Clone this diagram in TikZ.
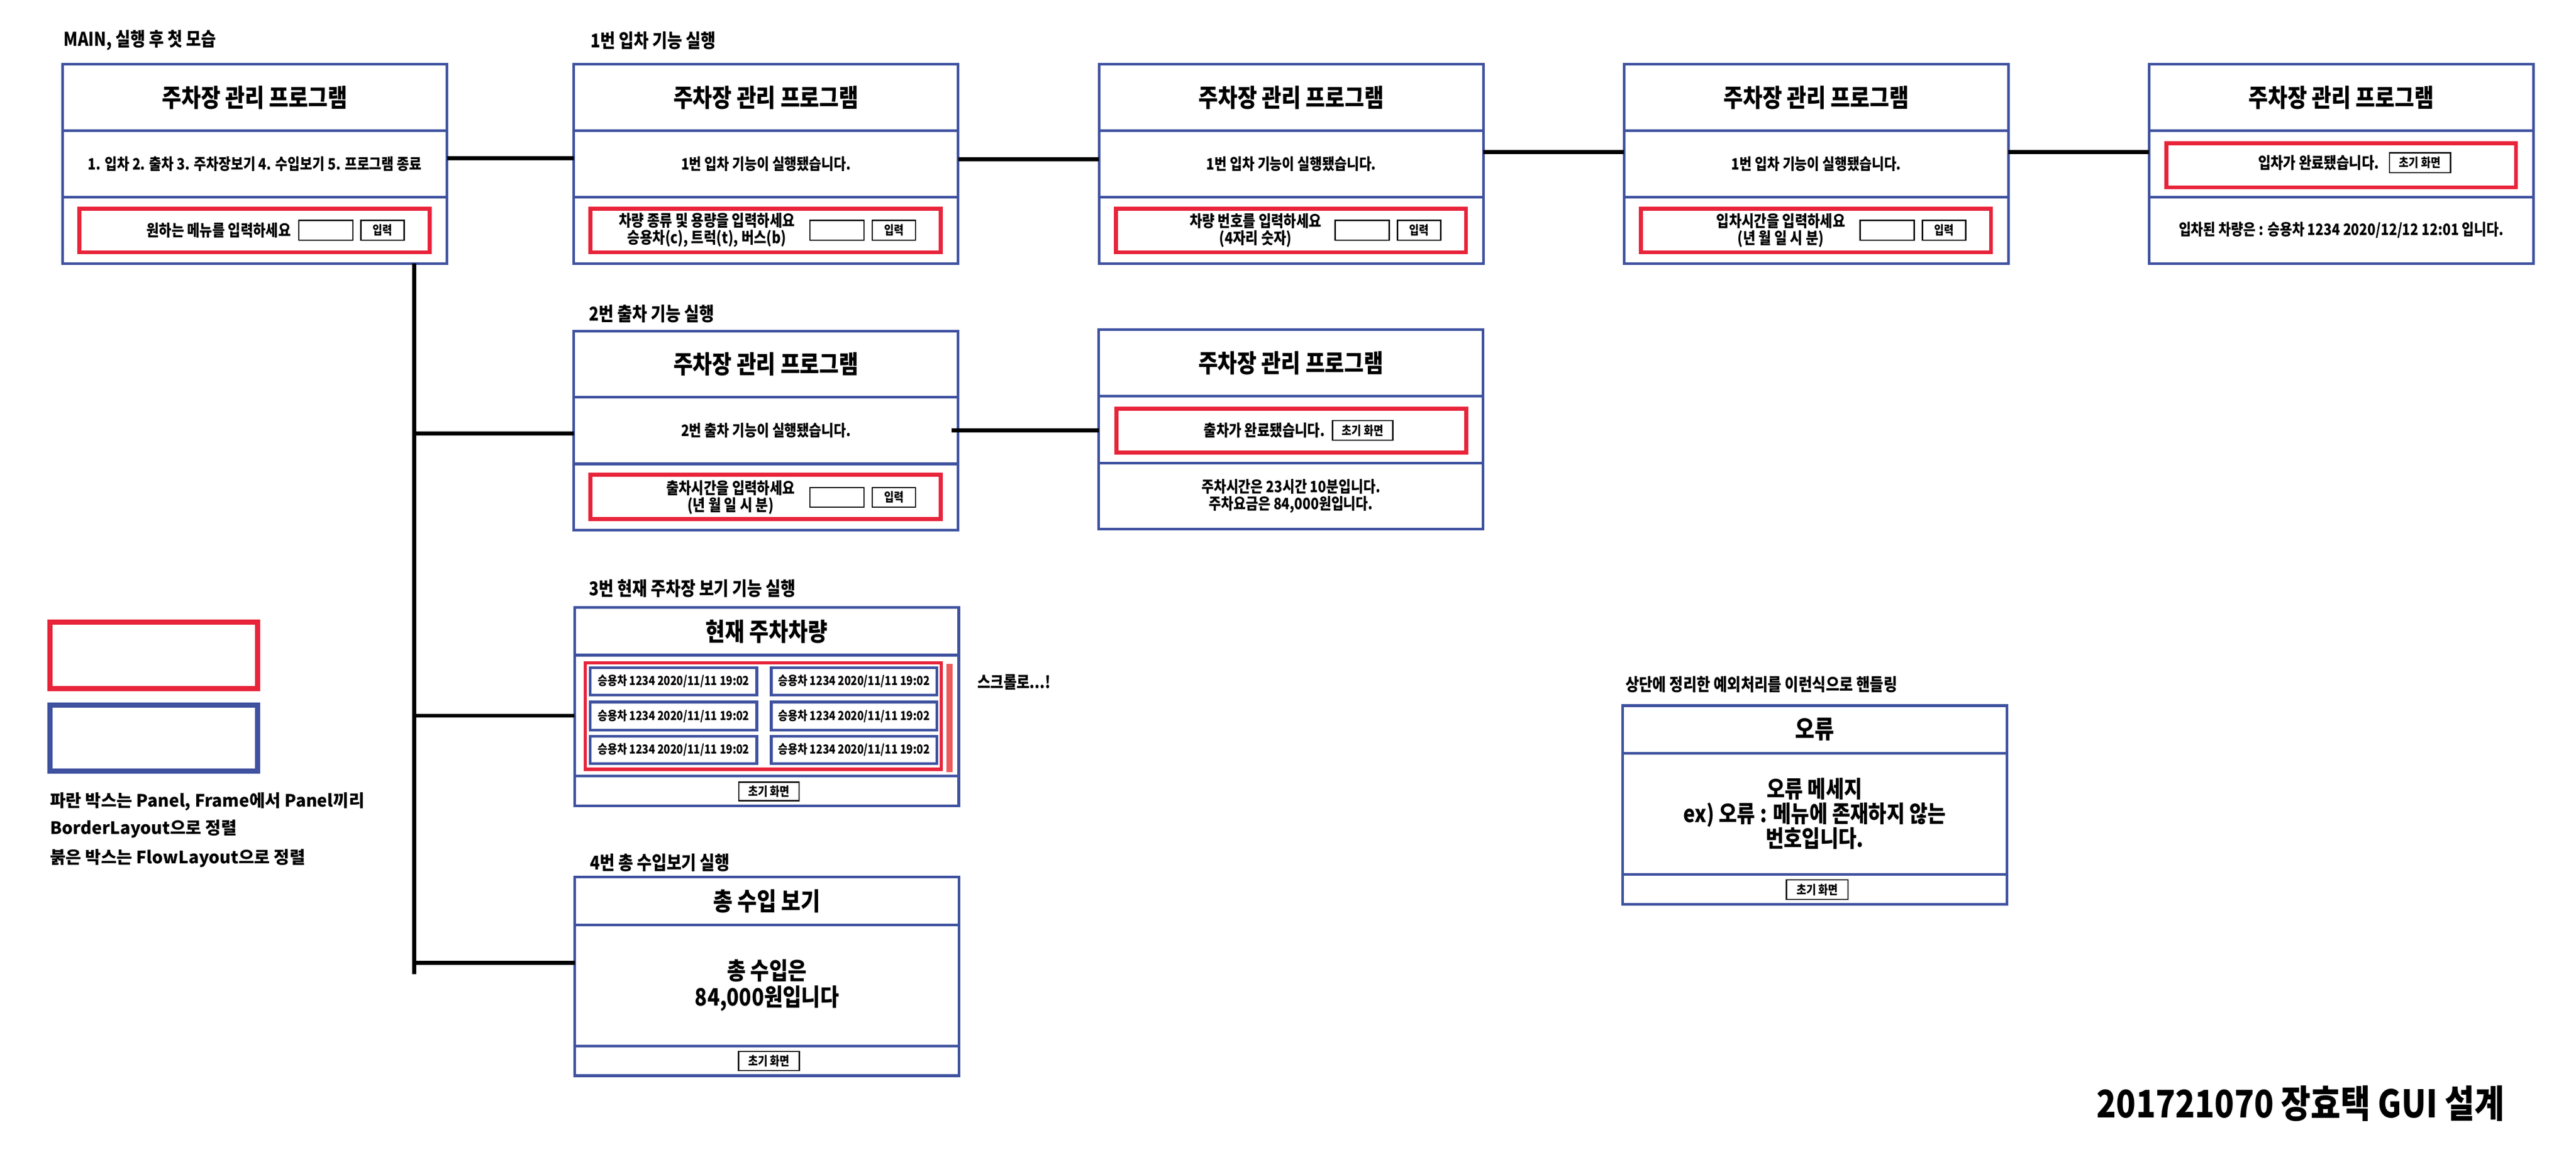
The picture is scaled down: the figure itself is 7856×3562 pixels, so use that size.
\documentclass[tikz,border=0pt]{standalone}
\usepackage{fontspec}
\newfontfamily\kr{Noto Sans CJK KR}[FakeStretch=0.85]
\newfontfamily\krw{Noto Sans CJK KR}
\newcommand\myfs[2]{\fontsize{#1pt}{#2pt}\selectfont}
\definecolor{pblue}{RGB}{63,82,160}
\definecolor{pred}{RGB}{232,36,58}
\definecolor{pscroll}{RGB}{236,92,92}
\begin{document}
\begin{tikzpicture}[x=1pt,y=-1pt,
  row/.style={draw=pblue, line width=8pt, minimum width=1172pt, inner sep=0pt, outer sep=0pt, anchor=north west, align=center, font=\kr\bfseries\myfs{48}{52}},
  ttl/.style={font=\kr\bfseries\myfs{76}{80}},
  big/.style={font=\kr\bfseries\myfs{73}{79}},
  redbox/.style={draw=pred, line width=12pt, inner sep=0pt, outer sep=0pt, anchor=north west},
  fld/.style={draw=black, line width=4pt, inner sep=0pt, outer sep=0pt, anchor=north west, minimum width=165pt, minimum height=60pt},
  btn/.style={fld, minimum width=132pt, font=\kr\bfseries\myfs{38}{40}},
  txt/.style={inner sep=0pt, align=center, font=\kr\bfseries\myfs{49}{52}},
  lab/.style={inner sep=0pt, anchor=west, font=\kr\bfseries\myfs{58}{60}},
  leg/.style={inner sep=0pt, anchor=west, font=\krw\bfseries\myfs{52}{56}},
  conn/.style={draw=black, line width=12pt},
  item/.style={draw=pblue, line width=8pt, inner sep=0pt, outer sep=0pt, anchor=north west, font=\kr\bfseries\myfs{38}{42}},
]
\path[fill=white, use as bounding box] (0,0) rectangle (7856,3562);

% ---------- labels ----------
\node[lab] (lab0) at (194,123) {MAIN, 실행 후 첫 모습};
\node[lab] (lab1) at (1801,123) {1번 입차 기능 실행};
\node[lab] (lab2) at (1796,957) {2번 출차 기능 실행};
\node[lab] (lab3) at (1796,1794) {3번 현재 주차장 보기 기능 실행};
\node[lab] (lab4) at (1799,2629) {4번 총 수입보기 실행};
\node[lab, font=\kr\bfseries\myfs{53}{56}] (lab5) at (4957,2087) {상단에 정리한 예외처리를 이런식으로 핸들링};
\node[lab, font=\kr\bfseries\myfs{51}{56}] (scrl) at (2981,2080) {스크롤로...!};

% ---------- box 1 (main) ----------
\node[row, ttl, minimum height=203pt] (m1t) at (191,196) {주차장 관리 프로그램};
\node[row, minimum height=202pt] (m1m) at (191,399) {1. 입차 2. 출차 3. 주차장보기 4. 수입보기 5. 프로그램 종료};
\node[row, minimum height=202pt] (m1b) at (191,601) {};
\node[redbox, minimum width=1068pt, minimum height=133pt] (m1r) at (242,636) {};
\node[txt] (m1q) at (667,702) {원하는 메뉴를 입력하세요};
\node[fld] (m1f) at (911,672) {};
\node[btn] (m1k) at (1101,672) {입력};

% ---------- box 2 ----------
\node[row, ttl, minimum height=203pt] (m2t) at (1750,196) {주차장 관리 프로그램};
\node[row, minimum height=202pt] (m2m) at (1750,399) {1번 입차 기능이 실행됐습니다.};
\node[row, minimum height=202pt] (m2b) at (1750,601) {};
\node[redbox, minimum width=1068pt, minimum height=133pt] (m2r) at (1801,636) {};
\node[txt] (m2q) at (2156,702) {차량 종류 및 용량을 입력하세요\\승용차(c), 트럭(t), 버스(b)};
\node[fld] (m2f) at (2470,672) {};
\node[btn] (m2k) at (2660,672) {입력};

% ---------- box 3 ----------
\node[row, ttl, minimum height=203pt] (m3t) at (3352,196) {주차장 관리 프로그램};
\node[row, minimum height=202pt] (m3m) at (3352,399) {1번 입차 기능이 실행됐습니다.};
\node[row, minimum height=202pt] (m3b) at (3352,601) {};
\node[redbox, minimum width=1068pt, minimum height=133pt] (m3r) at (3403,636) {};
\node[txt] (m3q) at (3829,702) {차량 번호를 입력하세요\\(4자리 숫자)};
\node[fld] (m3f) at (4072,672) {};
\node[btn] (m3k) at (4262,672) {입력};

% ---------- box 4 ----------
\node[row, ttl, minimum height=203pt] (m4t) at (4953,196) {주차장 관리 프로그램};
\node[row, minimum height=202pt] (m4m) at (4953,399) {1번 입차 기능이 실행됐습니다.};
\node[row, minimum height=202pt] (m4b) at (4953,601) {};
\node[redbox, minimum width=1068pt, minimum height=133pt] (m4r) at (5004,636) {};
\node[txt] (m4q) at (5431,702) {입차시간을 입력하세요\\(년 월 일 시 분)};
\node[fld] (m4f) at (5673,672) {};
\node[btn] (m4k) at (5863,672) {입력};

% ---------- box 5 ----------
\node[row, ttl, minimum height=203pt] (m5t) at (6554,196) {주차장 관리 프로그램};
\node[row, minimum height=202pt] (m5m) at (6554,399) {};
\node[row, minimum height=202pt] (m5b) at (6554,601) {입차된 차량은 : 승용차 1234 2020/12/12 12:01 입니다.};
\node[redbox, minimum width=1066pt, minimum height=134pt] (m5r) at (6607,437) {};
\node[txt] (m5q) at (7071,497) {입차가 완료됐습니다.};
\node[btn, minimum width=186pt] (m5k) at (7287,466) {초기 화면};

% ---------- top connectors ----------
\coordinate (c12) at ([yshift=18pt]m1m.east);
\draw[conn] (c12) -- (c12 -| m2m.west);
\coordinate (c23) at ([yshift=15pt]m2m.east);
\draw[conn] (c23) -- (c23 -| m3m.west);
\coordinate (c34) at ([yshift=37pt]m3m.east);
\draw[conn] (c34) -- (c34 -| m4m.west);
\coordinate (c45) at ([yshift=37pt]m4m.east);
\draw[conn] (c45) -- (c45 -| m5m.west);

% ---------- 2: exit ----------
\node[row, ttl, minimum height=201pt] (b2t) at (1750,1009) {주차장 관리 프로그램};
\node[row, minimum height=204pt] (b2m) at (1750,1210) {2번 출차 기능이 실행됐습니다.};
\node[row, minimum height=202pt] (b2b) at (1750,1414) {};
\node[redbox, minimum width=1068pt, minimum height=135pt] (b2r) at (1801,1447) {};
\node[txt] (b2q) at (2228,1516) {출차시간을 입력하세요\\(년 월 일 시 분)};
\node[fld] (b2f) at (2470,1486) {};
\node[btn] (b2k) at (2660,1486) {입력};

\node[row, ttl, minimum height=203pt] (d2t) at (3351,1005) {주차장 관리 프로그램};
\node[row, minimum height=203pt] (d2m) at (3351,1208) {};
\node[row, minimum height=202pt] (d2b) at (3351,1411) {주차시간은 23시간 10분입니다.\\주차요금은 84,000원입니다.};
\node[redbox, minimum width=1067pt, minimum height=133pt] (d2r) at (3405,1246) {};
\node[txt] (d2q) at (3856,1312) {출차가 완료됐습니다.};
\node[btn, minimum width=184pt] (d2k) at (4064,1282) {초기 화면};

\coordinate (c2x) at ([xshift=-20pt]b2m.east);
\draw[conn] (c2x) -- (c2x -| d2m.west);

% ---------- 3: list ----------
\node[row, ttl, minimum height=145pt] (L3t) at (1752,1852) {현재 주차차량};
\node[row, minimum height=369pt] (L3m) at (1752,1997) {};
\node[row, minimum height=91pt] (L3b) at (1752,2366) {};
\node[redbox, line width=10pt, minimum width=1086pt, minimum height=324pt] (L3r) at (1785,2021) {};
\node[fill=pscroll, anchor=north west, inner sep=0pt, outer sep=0pt, minimum width=18pt, minimum height=330pt] (L3s) at (2887,2023) {};
\node[item, minimum width=508pt, minimum height=84pt] (i1) at (1800,2035) {승용차 1234 2020/11/11 19:02};
\node[item, minimum width=505pt, minimum height=84pt] (i2) at (2352,2035) {승용차 1234 2020/11/11 19:02};
\node[item, minimum width=508pt, minimum height=85pt] (i3) at (1800,2140) {승용차 1234 2020/11/11 19:02};
\node[item, minimum width=505pt, minimum height=85pt] (i4) at (2352,2140) {승용차 1234 2020/11/11 19:02};
\node[item, minimum width=508pt, minimum height=84pt] (i5) at (1800,2244) {승용차 1234 2020/11/11 19:02};
\node[item, minimum width=505pt, minimum height=84pt] (i6) at (2352,2244) {승용차 1234 2020/11/11 19:02};
\node[btn, minimum width=184pt, minimum height=57pt] (L3k) at (2253,2384) {초기 화면};

% ---------- 4: income ----------
\node[row, ttl, minimum height=145pt] (L4t) at (1753,2674) {총 수입 보기};
\node[row, big, minimum height=369pt] (L4m) at (1753,2819) {총 수입은\\84,000원입니다};
\node[row, minimum height=91pt] (L4b) at (1753,3188) {};
\node[btn, minimum width=186pt, minimum height=58pt] (L4k) at (2252,3205) {초기 화면};

% ---------- trunk ----------
\coordinate (te) at (1263,2970);
\draw[conn] (m1b.south -| te) -- (te);
\coordinate (j2) at ([yshift=-9pt]b2m.west);
\draw[conn] (j2 -| te) -- (j2);
\coordinate (j3) at (L3m.west);
\draw[conn] (j3 -| te) -- (j3);
\coordinate (j4) at ([yshift=69pt]L4m.west);
\draw[conn] (j4 -| te) -- (j4);

% ---------- error ----------
\node[row, ttl, minimum height=145pt] (e1t) at (4948,2151) {오류};
\node[row, font=\kr\bfseries\myfs{71}{75}, minimum height=369pt] (e1m) at (4948,2296) {오류 메세지\\ex) 오류 : 메뉴에 존재하지 않는\\번호입니다.};
\node[row, minimum height=92pt] (e1b) at (4948,2665) {};
\node[btn, minimum width=188pt] (e1k) at (5448,2682) {초기 화면};

% ---------- legend ----------
\node[redbox, line width=16pt, minimum width=634pt, minimum height=202pt] (lgr) at (152,1897) {};
\node[redbox, draw=pblue, line width=16pt, minimum width=634pt, minimum height=201pt] (lgb) at (152,2150) {};
\node[leg] (lg1) at (153,2443) {파란 박스는 Panel, Frame에서 Panel끼리};
\node[leg] (lg2) at (153,2526) {BorderLayout으로 정렬};
\node[leg] (lg3) at (153,2617) {붉은 박스는 FlowLayout으로 정렬};

% ---------- signature ----------
\node[inner sep=0pt, font=\kr\bfseries\myfs{116}{120}] (sig) at (7016,3364) {201721070 장효택 GUI 설계};
\end{tikzpicture}
\end{document}
